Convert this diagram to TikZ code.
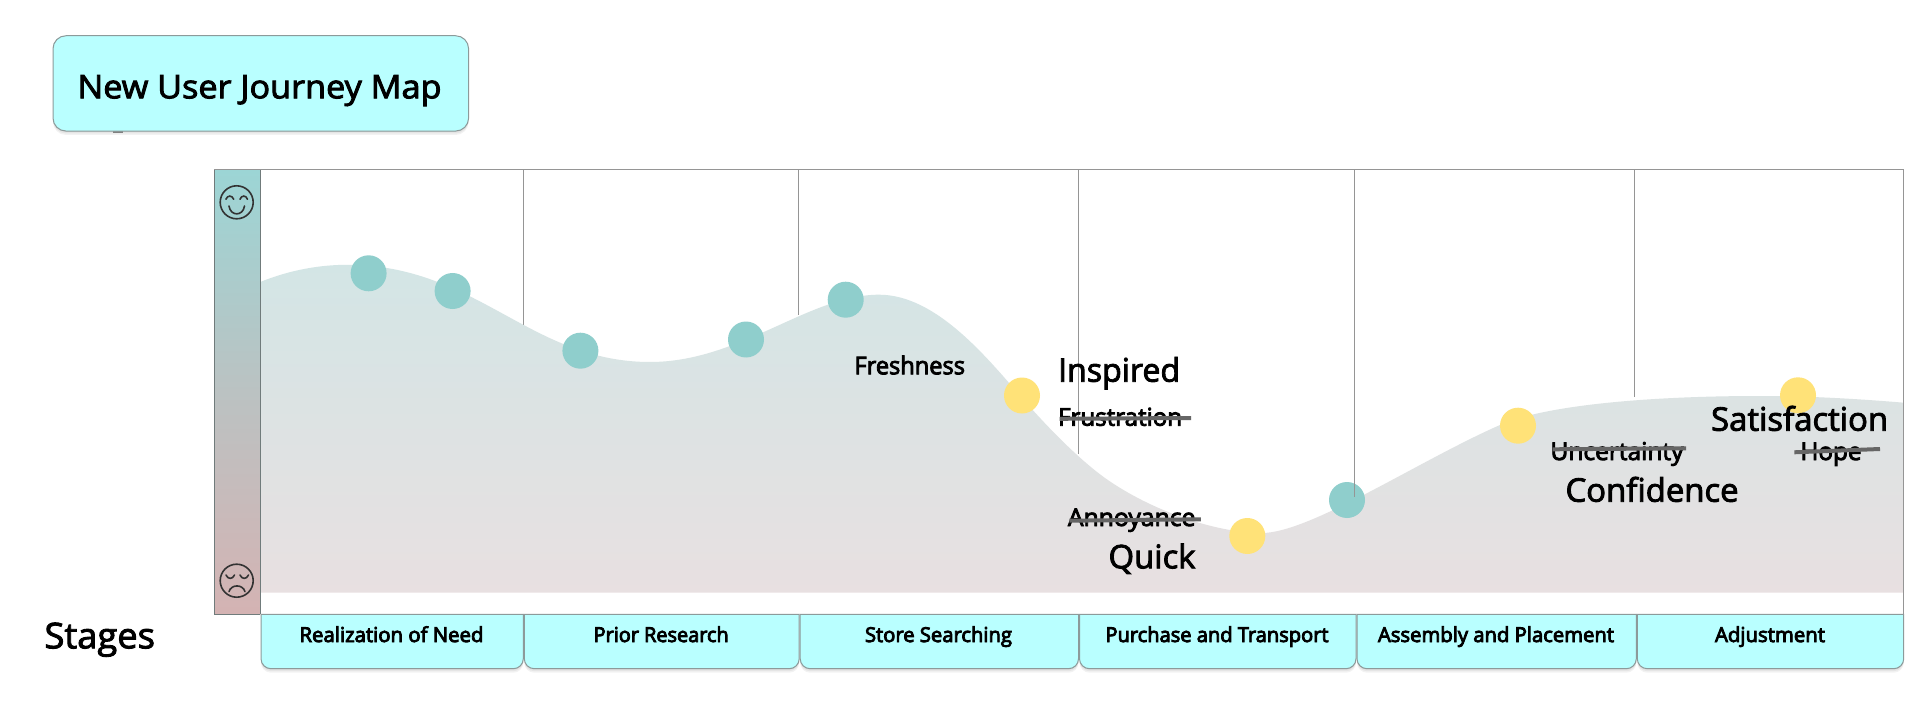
\documentclass[tikz,border=0pt]{standalone}
\usepackage{fontspec}
\usepackage{graphicx}
\setmainfont{Open Sans}
\usetikzlibrary{calc}
\definecolor{boxfill}{HTML}{B9FFFF}
\definecolor{boxline}{HTML}{8C9A9A}
\definecolor{rule}{HTML}{959595}
\definecolor{teal}{HTML}{8FCECC}
\definecolor{sun}{HTML}{FFE278}
\definecolor{strike}{HTML}{666666}
\definecolor{face}{HTML}{333333}
\definecolor{bartop}{HTML}{9CD5D5}
\definecolor{barmid}{HTML}{BBC2C2}
\definecolor{barbot}{HTML}{D4B3B3}
\definecolor{areatop}{HTML}{D3E5E5}
\definecolor{areabot}{HTML}{E8E0E1}
\newlength\pxu \setlength\pxu{0.75pt}
\newcommand{\tw}[3]{\fontsize{#1\pxu}{#1\pxu}\selectfont\resizebox{#2\pxu}{\height}{\special{pdf:code 2 Tr 0.65 w}#3\special{pdf:code 0 Tr}}}
\tikzset{
  lbl/.style={inner sep=0pt,outer sep=0pt,anchor=base west,text=black,xshift=-1.5\pxu},
  stagelbl/.style={inner sep=0pt,outer sep=0pt,anchor=base,text=black,xshift=-0.5\pxu},
  dot/.style={circle,minimum size=36\pxu,inner sep=0pt},
  tealdot/.style={dot,fill=teal},
  sundot/.style={dot,fill=sun},
  divider/.style={draw=rule,line width=1\pxu},
  strikeline/.style={draw=strike,line width=4\pxu},
  faceline/.style={draw=face,line width=1.6\pxu,line cap=round},
  stagebox/.style={draw=boxline,line width=1\pxu,fill=boxfill},
  softshadow/.style={fill=black,fill opacity=0.05,draw=none}
}
\newcommand{\stageshape}[3]{%
  \foreach \o in {1,2.5,4}{\path[softshadow] (#1,650) [rounded corners=10\pxu] -- (#1,668.7+\o) -- (#2,668.7+\o) [sharp corners] -- (#2,650) -- cycle;}%
  \path[stagebox] (#1,#3) [rounded corners=10\pxu] -- (#1,668.7) -- (#2,668.7) [sharp corners] -- (#2,#3) -- cycle;}
\begin{document}
\begin{tikzpicture}[x=0.75pt,y=-0.75pt]
\useasboundingbox (0,0) rectangle (1920,720);
\fill[white] (0,0) rectangle (1920,720);

% title
\foreach \o in {1,2.5,4}{\path[softshadow,rounded corners=13\pxu] (53,36+\o) rectangle (468.6,131+\o);}
\fill[black!50] (113,131) rectangle (123,132.8);
\node[draw=boxline,line width=1\pxu,fill=boxfill,rounded corners=13\pxu,minimum width=415.6\pxu,minimum height=95.3\pxu,inner sep=0pt] (title) at (260.8,83.4) {};
\node[lbl] (titletext) at (79,98.3) {\tw{32.5}{364}{New User Journey Map}};

% dividers' ends
\coordinate (tl) at (214,169.7);
\coordinate (tr) at (1903.7,169.7);
\coordinate (br) at (1903.7,614.3);
\coordinate (d1a) at (523,169.7);   \coordinate (d1b) at (523,330);
\coordinate (d2a) at (798.8,169.7); \coordinate (d2b) at (798.8,315);
\coordinate (d3a) at (1078,169.7);  \coordinate (d3b) at (1078,454);
\coordinate (d4a) at (1354.3,169.7);\coordinate (d4b) at (1354.3,497);
\coordinate (d5a) at (1634.7,169.7);\coordinate (d5b) at (1634.7,397);
\path[divider] (d1a) -- (d1b) (d2a) -- (d2b) (d3a) -- (d3b) (d5a) -- (d5b);

% emotion bar
\shade[top color=bartop,bottom color=barbot,middle color=barmid] (214,169.7) rectangle (260.4,614.3);
\draw[draw=boxline!80!black,line width=1\pxu] (214,614.3) -- (214,169.7) (260.4,169.7) -- (260.4,614.3) (214,614.3) -- (260.4,614.3);

% curve area
\shade[top color=areatop,bottom color=areabot]
  (261,592.7) -- (261,281.7)
  .. controls (290,270) and (320,264.8) .. (347,264.8)
  .. controls (477,264.8) and (530,362) .. (650,362)
  .. controls (740,362) and (809,294.7) .. (879,294.7)
  .. controls (935,294.7) and (985,355) .. (1022,398)
  .. controls (1050,430) and (1080,460) .. (1105,478)
  .. controls (1150,510) and (1215,533) .. (1262,533)
  .. controls (1310,533) and (1420,460) .. (1500,425)
  .. controls (1545,405) and (1650,396) .. (1760,396)
  .. controls (1810,396) and (1860,399) .. (1903.7,402.7)
  -- (1903.7,592.7) -- cycle;

% frame
\draw[draw=rule,line width=1\pxu] (tl) -- (tr) -- (br);

% dots
\node[tealdot] (c1) at (368.6,273.3) {};
\node[tealdot] (c2) at (452.6,291) {};
\node[tealdot] (c3) at (580.4,350.7) {};
\node[tealdot] (c4) at (746,339.5) {};
\node[tealdot] (c5) at (845.7,299.7) {};
\node[sundot] (c6) at (1022,395.5) {};
\node[sundot] (c7) at (1247.3,536) {};
\node[tealdot] (c8) at (1347,500) {};
\node[sundot] (c9) at (1518,425.7) {};
\node[sundot] (c10) at (1798,395.3) {};
\path[divider] (d4a) -- (d4b);

% faces
\draw[faceline] (236.7,202.3) circle[radius=16.5];
\draw[faceline] (225.9,199.3) .. controls (227.5,195) and (232,195) .. (233.7,199.3);
\draw[faceline] (240,199.3) .. controls (241.5,195) and (246,195) .. (247.5,199.3);
\draw[faceline] (229,206) .. controls (230.5,216.5) and (243,216.5) .. (244.5,206);
\draw[faceline] (236.7,580.7) circle[radius=16.5];
\draw[faceline] (226,575) .. controls (228,579.5) and (232.5,579.5) .. (234.5,575);
\draw[faceline] (240,575) .. controls (242,579.5) and (246.5,579.5) .. (248.5,575);
\draw[faceline] (229,591.7) .. controls (231,584) and (243,584) .. (245,591.7);

% labels
\node[lbl] (stages) at (46,648.3) {\tw{35.5}{110.5}{Stages}};
\node[lbl] (fresh) at (856,374.3) {\tw{24.5}{110.5}{Freshness}};
\node[lbl] (insp) at (1059.6,381.7) {\tw{32.5}{122}{Inspired}};
\node[lbl] (frus) at (1059.6,425.7) {\tw{24.5}{124}{Frustration}};
\node[lbl] (anno) at (1069.4,526) {\tw{24.5}{127.5}{Annoyance}};
\node[lbl] (quick) at (1110,568.3) {\tw{32.5}{87}{Quick}};
\node[lbl] (unce) at (1552,460) {\tw{24.5}{133}{Uncertainty}};
\node[lbl] (conf) at (1567,501.7) {\tw{32.5}{173}{Confidence}};
\node[lbl] (sati) at (1712.6,430.7) {\tw{32.5}{177}{Satisfaction}};
\node[lbl] (hope) at (1802,460) {\tw{24.5}{61}{Hope}};

% strikes
\coordinate (s1a) at (1059.6,418.8); \coordinate (s1b) at (1191,418);
\coordinate (s2a) at (1069.4,520.7); \coordinate (s2b) at (1200.8,519.3);
\coordinate (s3a) at (1552.6,449.3); \coordinate (s3b) at (1686,448.3);
\coordinate (s4a) at (1794.3,452.3); \coordinate (s4b) at (1880,449);
\path[strikeline] (s1a) -- (s1b) (s2a) -- (s2b) (s3a) -- (s3b) (s4a) -- (s4b);

% stage boxes
\stageshape{261}{523.3}{614.3}
\stageshape{524.3}{799.2}{614.3}
\stageshape{800.2}{1078.5}{614.3}
\stageshape{1079.5}{1356}{614.3}
\stageshape{1357}{1636.3}{614.3}
\stageshape{1637.3}{1903.7}{614.3}
\node[stagelbl] (st1) at (392,642) {\tw{20.5}{184}{Realization of Need}};
\node[stagelbl] (st2) at (661.7,642) {\tw{20.5}{135}{Prior Research}};
\node[stagelbl] (st3) at (939,642) {\tw{20.5}{147}{Store Searching}};
\node[stagelbl] (st4) at (1217.5,642) {\tw{20.5}{223}{Purchase and Transport}};
\node[stagelbl] (st5) at (1496.5,642) {\tw{20.5}{236}{Assembly and Placement}};
\node[stagelbl] (st6) at (1770.5,642) {\tw{20.5}{110}{Adjustment}};
\end{tikzpicture}
\end{document}
